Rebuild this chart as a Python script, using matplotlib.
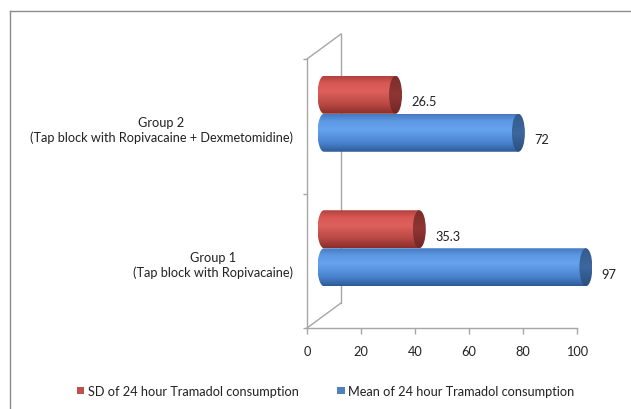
import numpy as np
import matplotlib
matplotlib.use("Agg")
import matplotlib.pyplot as plt
from matplotlib.patches import Polygon, Ellipse, Patch
from matplotlib.lines import Line2D

# ---------------- data ----------------
categories = ["Group 1\n(Tap block with Ropivacaine)",
              "Group 2\n(Tap block with Ropivacaine + Dexmetomidine)"]
sd_values = [35.3, 26.5]
mean_values = [97, 72]
series_names = ["SD of 24 hour Tramadol consumption",
                "Mean of 24 hour Tramadol consumption"]
x_ticks = [0, 20, 40, 60, 80, 100]
x_tick_labels = ["0", "20", "40", "60", "80", "100"]

# ---------------- style ----------------
FONT = "Lato"
FS = 9.2
frame_col = "#A6A6A6"
text_col = "#222222"

red_stops = [(0.0, "#8A2E2B"), (0.25, "#B84844"), (0.6, "#DE605C"),
             (0.82, "#D75753"), (1.0, "#B0423E")]
blue_stops = [(0.0, "#2E5B96"), (0.25, "#4A84D0"), (0.6, "#66A3EE"),
              (0.82, "#5D97E2"), (1.0, "#4679C0")]
red_cap = [(0.0, "#722624"), (0.5, "#8E3634"), (1.0, "#7E2D2A")]
blue_cap = [(0.0, "#2B4F80"), (0.5, "#3D679E"), (1.0, "#345B8E")]
legend_cols = ["#C0504D", "#4F81BD"]


def grad_array(stops, n=64):
    from matplotlib.colors import to_rgb
    pos = np.array([s[0] for s in stops])
    cols = np.array([to_rgb(s[1]) for s in stops])
    t = np.linspace(0, 1, n)
    arr = np.stack([np.interp(t, pos, cols[:, k]) for k in range(3)], axis=-1)
    return arr[:, None, :]


W, H = 631, 410
fig = plt.figure(figsize=(W / 100, H / 100), dpi=100)
fig.patch.set_facecolor("white")

# outer border (top + left)
fig.add_artist(Line2D([10 / W, 1.0], [1 - 11.5 / H, 1 - 11.5 / H],
                      transform=fig.transFigure, color="#8C8C8C", lw=1))
fig.add_artist(Line2D([10 / W, 10 / W], [0, 1 - 11.5 / H],
                      transform=fig.transFigure, color="#8C8C8C", lw=1))

ax = fig.add_axes([307 / W, (H - 329) / H, 270 / W, 269 / H])
xmin, xmax = 0, 100
ymin, ymax = -0.5, len(categories) - 0.5
ax.set_xlim(xmin, xmax)
ax.set_ylim(ymin, ymax)

# depth offsets in data units (34 px right, 25 px up)
px_x = 270 / (xmax - xmin)
px_y = 269 / (ymax - ymin)
DX = 34 / px_x
DY = 25 / px_y

# back wall lines
kw = dict(color=frame_col, lw=1, zorder=1, clip_on=False)
ax.plot([DX, DX], [ymin + DY, ymax + DY], **kw)
ax.plot([0, DX], [ymax, ymax + DY], **kw)
ax.plot([0, DX], [ymin, ymin + DY], **kw)

# spines
for s in ["top", "right"]:
    ax.spines[s].set_visible(False)
for s in ["left", "bottom"]:
    ax.spines[s].set_color(frame_col)
    ax.spines[s].set_linewidth(1)
ax.set_facecolor("none")

ax.set_xticks(x_ticks)
ax.set_xticklabels(x_tick_labels, fontname=FONT, fontsize=FS, color=text_col)
ax.tick_params(axis="x", length=4, width=1, color=frame_col, pad=8.5)
ax.set_yticks(np.arange(ymin, ymax + 0.01, 1.0))
ax.set_yticklabels([])
ax.tick_params(axis="y", length=3, width=1, color=frame_col)

# category labels
for i, lab in enumerate(categories):
    ax.annotate(lab, xy=(0, i), xycoords=("axes fraction", "data"),
                xytext=(-10, -2.5), textcoords="offset points",
                ha="right", va="center", multialignment="center",
                fontname=FONT, fontsize=FS, color=text_col, linespacing=1.2)

bar_h = 38 / px_y
cap_a = 6.5 / px_x  # semi-axis of end ellipse in x data units


def cylinder(x_end, yc, stops, cap_stops, z):
    x0 = DX / 2
    x1 = DX / 2 + x_end
    b = bar_h / 2
    th = np.linspace(np.pi / 2, 3 * np.pi / 2, 40)
    pts = np.column_stack([x0 + cap_a * np.cos(th), yc + b * np.sin(th)])
    pts = np.vstack([pts, [[x1, yc - b], [x1, yc + b]]])
    body = Polygon(pts, closed=True, facecolor="none", edgecolor="none",
                   zorder=z, clip_on=False)
    ax.add_patch(body)
    im = ax.imshow(grad_array(stops), extent=[x0 - cap_a, x1, yc - b, yc + b],
                   origin="lower", aspect="auto", interpolation="bilinear",
                   zorder=z)
    im.set_clip_box(fig.bbox)
    im.set_clip_path(body)
    cap = Ellipse((x1, yc), 2 * cap_a, 2 * b, facecolor="none",
                  edgecolor="none", zorder=z + 0.1, clip_on=False)
    ax.add_patch(cap)
    im2 = ax.imshow(grad_array(cap_stops), extent=[x1 - cap_a, x1 + cap_a,
                                                   yc - b, yc + b],
                    origin="lower", aspect="auto", interpolation="bilinear",
                    zorder=z + 0.1)
    im2.set_clip_box(fig.bbox)
    im2.set_clip_path(cap)
    return x1 + cap_a


for i in range(len(categories)):
    base = i + DY / 2
    # mean (blue) lower, SD (red) upper
    yb = base - bar_h / 2
    yr = base + bar_h / 2
    endb = cylinder(mean_values[i], yb, blue_stops, blue_cap, 3 + i)
    endr = cylinder(sd_values[i], yr, red_stops, red_cap, 4 + i)
    ax.text(endb + 3.5, yb - 0.05, f"{mean_values[i]:g}", ha="left",
            va="center", fontname=FONT, fontsize=FS, color=text_col,
            clip_on=False)
    ax.text(endr + 3.5, yr - 0.05, f"{sd_values[i]:g}", ha="left",
            va="center", fontname=FONT, fontsize=FS, color=text_col,
            clip_on=False)

ax.set_xlim(xmin, xmax)
ax.set_ylim(ymin, ymax)

handles = [Patch(facecolor=legend_cols[0], edgecolor="none"),
           Patch(facecolor=legend_cols[1], edgecolor="none")]
leg = fig.legend(handles, series_names, loc="center",
                 bbox_to_anchor=(326 / W, (H - 392) / H), ncol=2,
                 frameon=False, handlelength=0.55, handleheight=0.55,
                 handletextpad=0.3, columnspacing=3.0,
                 prop={"family": FONT, "size": FS})
for t in leg.get_texts():
    t.set_color(text_col)

fig.savefig("out.png", dpi=100, facecolor="white")
